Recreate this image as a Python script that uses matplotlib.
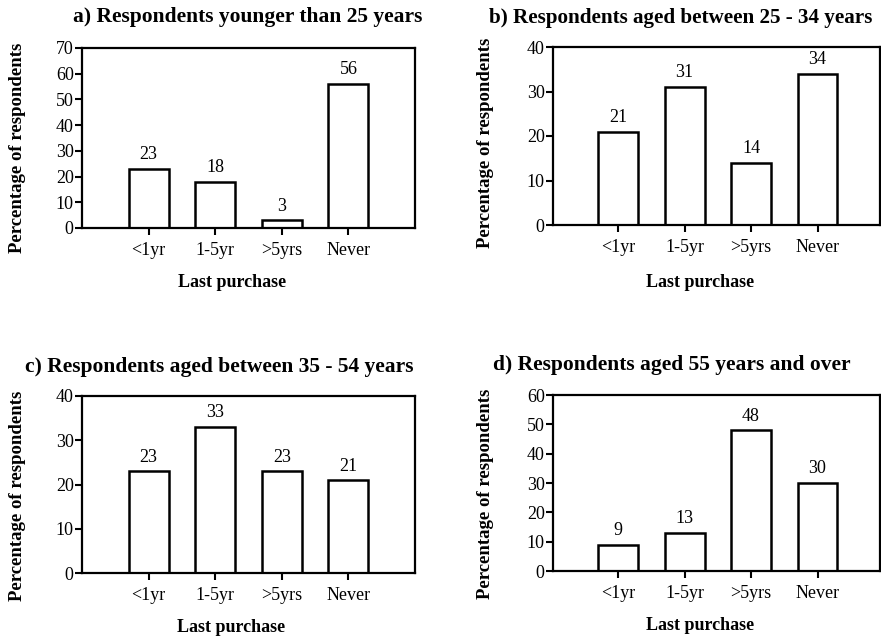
import matplotlib
matplotlib.use("Agg")
import matplotlib.pyplot as plt

plt.rcParams['font.family'] = ['Liberation Serif', 'DejaVu Serif']

W, H = 881, 639

categories = ["<1yr", "1-5yr", ">5yrs", "Never"]

titles = ["a) Respondents younger than 25 years",
          "b) Respondents aged between 25 - 34 years",
          "c) Respondents aged between 35 - 54 years",
          "d) Respondents aged 55 years and over"]

vals_a = [23, 18, 3, 56]
vals_b = [21, 31, 14, 34]
vals_c = [23, 33, 23, 21]
vals_d = [9, 13, 48, 30]

ymax = [70, 40, 40, 60]
ystep = [10, 10, 10, 10]

# pixel layout: (left, top, right, bottom) of each axes
boxes = [(82, 48, 415, 228), (553, 47, 880, 225),
         (82, 396, 415, 573), (553, 395, 880, 571)]
xlims = [(-1.0, 4.0), (-0.98, 3.94), (-1.0, 4.0), (-0.98, 3.94)]
title_pos = [(73, 17), (489, 18), (25, 367), (493, 365)]
title_size = [15.5, 15.2, 15.5, 15.5]
ylab_pos = [(18, 148), (485, 143), (18, 496), (485, 494)]
xlab_pos = [(232, 283), (700, 283), (231, 627), (700, 625)]

fig = plt.figure(figsize=(W / 100, H / 100), dpi=100)

for i, vals in enumerate([vals_a, vals_b, vals_c, vals_d]):
    l, t, r, b = boxes[i]
    ax = fig.add_axes([l / W, 1 - b / H, (r - l) / W, (b - t) / H])
    x = range(len(categories))
    bars = ax.bar(x, vals, width=0.6, color="white", edgecolor="black", linewidth=1.8)
    for bar, v in zip(bars, vals):
        ax.annotate(str(v), (bar.get_x() + bar.get_width() / 2, bar.get_height()),
                    xytext=(0, 4), textcoords="offset points",
                    ha="center", va="bottom", fontsize=13)
    ax.set_xlim(*xlims[i])
    ax.set_ylim(0, ymax[i])
    ax.set_yticks(range(0, ymax[i] + 1, ystep[i]))
    ax.set_xticks(list(x))
    ax.set_xticklabels(categories)
    ax.tick_params(axis="both", direction="out", length=5, width=1.5, labelsize=13)
    ax.tick_params(axis="x", pad=5)
    ax.tick_params(axis="y", pad=1)
    for s in ax.spines.values():
        s.set_linewidth(1.6)

    fig.text(title_pos[i][0] / W, 1 - title_pos[i][1] / H, titles[i],
             ha="left", va="center", fontsize=title_size[i], fontweight="bold")
    fig.text(ylab_pos[i][0] / W, 1 - ylab_pos[i][1] / H, "Percentage of respondents",
             ha="center", va="center", rotation=90, fontsize=13.5, fontweight="bold")
    fig.text(xlab_pos[i][0] / W, 1 - xlab_pos[i][1] / H, "Last purchase",
             ha="center", va="center", fontsize=13, fontweight="bold")

fig.savefig("out.png", dpi=100)
